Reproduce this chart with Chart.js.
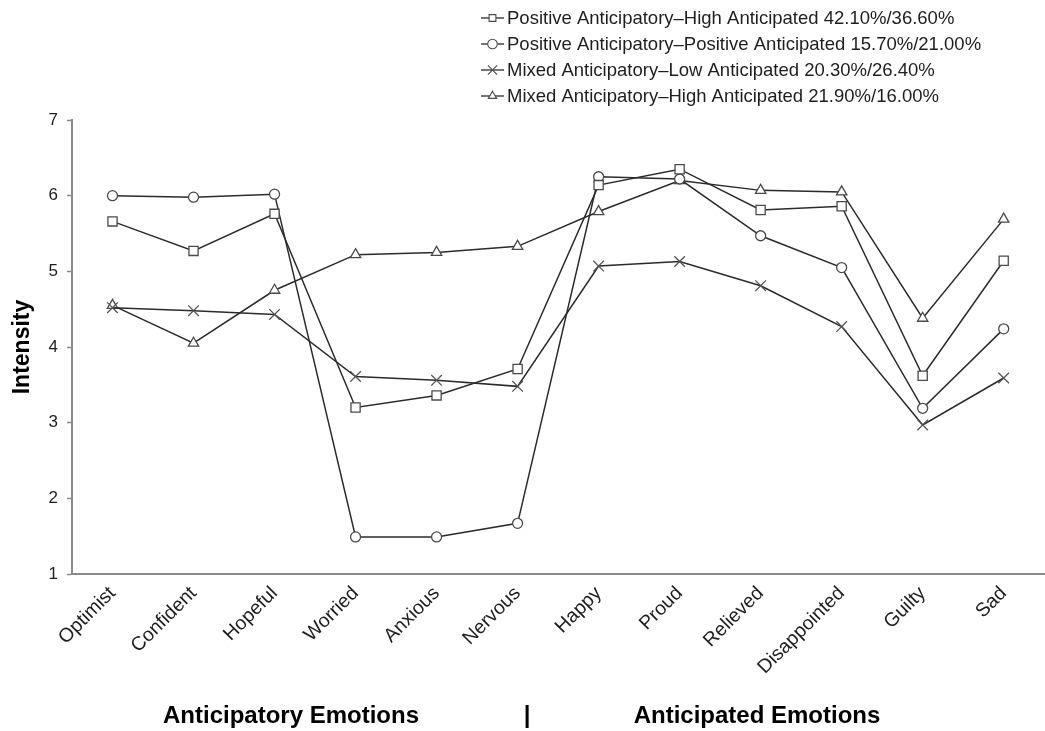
<!DOCTYPE html>
<html>
<head>
<meta charset="utf-8">
<script src="https://cdn.jsdelivr.net/npm/chart.js@4.4.1/dist/chart.umd.min.js"></script>
<style>
  html, body { margin: 0; padding: 0; background: #fff; overflow: hidden; }
  #wrap { position: relative; width: 1053px; height: 731px; }
</style>
</head>
<body>
<div id="wrap"><canvas id="c" width="1053" height="731"></canvas></div>
<script>
const categories = ['Optimist','Confident','Hopeful','Worried','Anxious','Nervous','Happy','Proud','Relieved','Disappointed','Guilty','Sad'];
const posHigh = [5.66,5.27,5.76,3.20,3.36,3.71,6.14,6.35,5.81,5.86,3.62,5.14];
const posPos  = [6.00,5.98,6.02,1.49,1.49,1.67,6.25,6.22,5.47,5.05,3.19,4.24];
const mixLow  = [4.52,4.48,4.43,3.61,3.56,3.48,5.07,5.13,4.81,4.27,2.97,3.59];
const mixHigh = [4.55,4.05,4.75,5.22,5.25,5.33,5.79,6.20,6.07,6.05,4.38,5.69];
const seriesLabels = [
  'Positive Anticipatory\u2013High Anticipated 42.10%/36.60%',
  'Positive Anticipatory\u2013Positive Anticipated 15.70%/21.00%',
  'Mixed Anticipatory\u2013Low Anticipated 20.30%/26.40%',
  'Mixed Anticipatory\u2013High Anticipated 21.90%/16.00%'
];
const seriesMarkers = ['rect','circle','crossRot','triangle'];
const groupLabels = ['Anticipatory Emotions', '|', 'Anticipated Emotions'];
const yMin = 1, yMax = 7;

const FONT = '"Liberation Sans", Arial, sans-serif';
const LINE = '#2b2b2b';
const MARK = '#4a4a4a';
const radii = { rect: 6.5, circle: 5, crossRot: 7.5, triangle: 6 };

function mkDataset(label, data, style) {
  return {
    label, data,
    borderColor: LINE, borderWidth: 1.5,
    pointStyle: style,
    pointRadius: radii[style],
    pointHoverRadius: radii[style],
    pointBackgroundColor: '#ffffff',
    pointBorderColor: style === 'crossRot' ? '#555' : MARK,
    pointBorderWidth: 1.3,
    tension: 0, fill: false
  };
}

function drawMarker(ctx, style, x, y, r) {
  ctx.beginPath();
  if (style === 'rect') {
    const s = r * Math.SQRT1_2;
    ctx.rect(x - s, y - s, 2 * s, 2 * s);
    ctx.fill(); ctx.stroke();
  } else if (style === 'circle') {
    ctx.arc(x, y, r, 0, Math.PI * 2);
    ctx.fill(); ctx.stroke();
  } else if (style === 'crossRot') {
    const s = r * Math.SQRT1_2;
    ctx.moveTo(x - s, y - s); ctx.lineTo(x + s, y + s);
    ctx.moveTo(x + s, y - s); ctx.lineTo(x - s, y + s);
    ctx.stroke();
  } else if (style === 'triangle') {
    ctx.moveTo(x, y - r);
    ctx.lineTo(x + r * 0.87, y + r * 0.5);
    ctx.lineTo(x - r * 0.87, y + r * 0.5);
    ctx.closePath();
    ctx.fill(); ctx.stroke();
  }
}

const extras = {
  id: 'extras',
  afterDraw(chart) {
    const ctx = chart.ctx;
    ctx.save();
    // legend
    const lx = 481, ly = 18, step = 26;
    seriesLabels.forEach((lab, i) => {
      const y = ly + i * step;
      ctx.strokeStyle = LINE; ctx.lineWidth = 1.3;
      ctx.beginPath(); ctx.moveTo(lx, y); ctx.lineTo(lx + 23, y); ctx.stroke();
      ctx.fillStyle = '#fff'; ctx.strokeStyle = MARK; ctx.lineWidth = 1.1;
      drawMarker(ctx, seriesMarkers[i], lx + 11.5, y, seriesMarkers[i] === 'crossRot' ? 6.5 : 4.8);
      ctx.fillStyle = '#1e1e1e';
      ctx.font = '18.5px ' + FONT;
      ctx.textAlign = 'left'; ctx.textBaseline = 'middle';
      ctx.fillText(lab, lx + 26, y + 1);
    });
    // group labels under axis
    ctx.fillStyle = '#000';
    ctx.font = 'bold 24px ' + FONT;
    ctx.textAlign = 'center'; ctx.textBaseline = 'middle';
    ctx.fillText(groupLabels[0], 291, 716);
    ctx.fillText(groupLabels[1], 527, 716);
    ctx.fillText(groupLabels[2], 757, 716);
    ctx.restore();
  }
};

new Chart(document.getElementById('c'), {
  type: 'line',
  data: {
    labels: categories,
    datasets: [
      mkDataset(seriesLabels[0], posHigh, 'rect'),
      mkDataset(seriesLabels[1], posPos, 'circle'),
      mkDataset(seriesLabels[2], mixLow, 'crossRot'),
      mkDataset(seriesLabels[3], mixHigh, 'triangle')
    ]
  },
  options: {
    responsive: false,
    animation: false,
    devicePixelRatio: 1,
    layout: { padding: { top: 120, left: 0, right: 0, bottom: 0 } },
    plugins: { legend: { display: false }, tooltip: { enabled: false } },
    scales: {
      x: {
        type: 'category',
        offset: true,
        grid: { display: true, drawOnChartArea: false, drawTicks: false, color: 'rgba(0,0,0,0)' },
        border: { display: true, color: '#8a8a8a', width: 2 },
        ticks: {
          color: '#1e1e1e', font: { family: FONT, size: 19.5 },
          maxRotation: 45, minRotation: 45, padding: 8, autoSkip: false
        },
        afterFit(scale) { scale.height = 157; }
      },
      y: {
        min: yMin, max: yMax,
        grid: { display: true, drawOnChartArea: false, drawTicks: true, tickLength: 5, color: '#8a8a8a', tickWidth: 1.5 },
        border: { display: true, color: '#8a8a8a', width: 2 },
        ticks: { stepSize: 1, color: '#1e1e1e', font: { family: FONT, size: 17 }, padding: 9 },
        title: { display: true, text: 'Intensity', color: '#000', font: { family: FONT, size: 23, weight: 'bold' }, padding: { top: 9, bottom: 0 } },
        afterFit(scale) { scale.width = 72; }
      }
    }
  },
  plugins: [extras]
});
</script>
</body>
</html>
